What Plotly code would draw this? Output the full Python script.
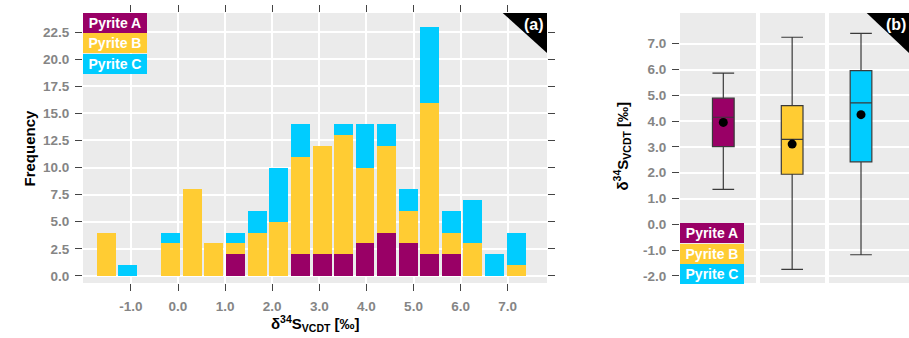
import plotly.graph_objects as go

# ---------------- data ----------------
groups = ["Pyrite A", "Pyrite B", "Pyrite C"]
colors = ["#990066", "#FFCC33", "#00CCFF"]

# histogram bin centres (‰) and stacked counts per group
bin_centers = [-1.52, -1.07, -0.62, -0.16, 0.30, 0.76, 1.22, 1.68, 2.14, 2.60,
               3.06, 3.52, 3.97, 4.43, 4.89, 5.34, 5.80, 6.26, 6.72, 7.18]
count_A = [0, 0, 0, 0, 0, 0, 2, 0, 0, 2, 2, 2, 3, 4, 3, 2, 2, 0, 0, 0]
count_B = [4, 0, 0, 3, 8, 3, 1, 4, 5, 9, 10, 11, 7, 8, 3, 14, 2, 3, 0, 1]
count_C = [0, 1, 0, 1, 0, 0, 1, 2, 5, 3, 0, 1, 4, 2, 2, 7, 2, 4, 2, 3]
bar_width = 0.40

# box-plot statistics per group
box_pos = [0, 1, 2]
box_low = [1.35, -1.75, -1.18]
box_q1 = [3.01, 1.94, 2.42]
box_median = [4.15, 3.29, 4.71]
box_q3 = [4.89, 4.60, 5.96]
box_high = [5.86, 7.25, 7.40]
box_mean = [3.95, 3.11, 4.25]

x_ticks = [-1, 0, 1, 2, 3, 4, 5, 6, 7]
y_ticks_a = [0, 2.5, 5, 7.5, 10, 12.5, 15, 17.5, 20, 22.5]
y_ticks_b = [-2, -1, 0, 1, 2, 3, 4, 5, 6, 7]

# ---------------- figure ----------------
W, H = 909, 338
FONT = "Liberation Sans, Arial, sans-serif"
TICKCOL = "#858585"
PANEL = "#EBEBEB"

fig = go.Figure()

for counts, name, col in zip([count_A, count_B, count_C], groups, colors):
    fig.add_trace(go.Bar(x=bin_centers, y=counts, width=bar_width, name=name,
                         marker=dict(color=col, line=dict(width=0)),
                         xaxis="x", yaxis="y", showlegend=False))

for i, (name, col) in enumerate(zip(groups, colors)):
    fig.add_trace(go.Box(x=[box_pos[i]], q1=[box_q1[i]], median=[box_median[i]],
                         q3=[box_q3[i]], lowerfence=[box_low[i]], upperfence=[box_high[i]],
                         width=0.315, whiskerwidth=1, fillcolor=col,
                         line=dict(color="#3a3a3a", width=1.2),
                         xaxis="x2", yaxis="y2", showlegend=False, name=name,
                         boxpoints=False))

fig.add_trace(go.Scatter(x=box_pos, y=box_mean, mode="markers",
                         marker=dict(color="black", size=9),
                         xaxis="x2", yaxis="y2", showlegend=False))

def px_x(p):
    return p / W

def px_y(p):
    return 1 - p / H

a_l, a_r, top, bot = 83, 547, 13, 283
b_l, b_r = 680, 909

axis_common = dict(showline=False, zeroline=False, ticks="outside", ticklen=7,
                   tickwidth=1.3, tickcolor="#444444",
                   tickfont=dict(family=FONT, size=13.5, color=TICKCOL, weight="bold"),
                   gridcolor="white")

fig.update_layout(
    width=W, height=H, margin=dict(l=0, r=0, t=0, b=0),
    paper_bgcolor="white", plot_bgcolor=PANEL, barmode="stack", bargap=0,
    xaxis=dict(domain=[px_x(a_l), px_x(a_r)], range=[-2.017, 7.834], tickvals=x_ticks,
               ticktext=[f"{v:.1f}" for v in x_ticks], gridwidth=1.6, mirror="ticks",
               anchor="y", ticklabelstandoff=4, **axis_common),
    yaxis=dict(domain=[px_y(bot), px_y(top)], range=[-0.65, 24.26], tickvals=y_ticks_a,
               ticktext=[f"{v:.1f}" for v in y_ticks_a], gridwidth=1.6, mirror="ticks",
               anchor="x", ticklabelstandoff=3, **axis_common),
    xaxis2=dict(domain=[px_x(b_l), px_x(b_r)], range=[-0.629, 2.697], tickvals=[0.5, 1.5],
                showticklabels=False, showline=False, zeroline=False, ticks="",
                gridcolor="white", gridwidth=3.5, anchor="y2"),
    yaxis2=dict(domain=[px_y(bot), px_y(top)], range=[-2.275, 8.19], tickvals=y_ticks_b,
                ticktext=[f"{v:.1f}" for v in y_ticks_b], gridwidth=2, anchor="x2",
                ticklabelstandoff=3, **axis_common),
)

# corner triangles with panel labels
for xr, yr, lbl in [("x", "y", "(a)"), ("x2", "y2", "(b)")]:
    if xr == "x":
        x0 = 1 - 44.3 / (a_r - a_l)
    else:
        x0 = 1 - 42.3 / (b_r - b_l)
    y1 = 1 - 40 / (bot - top)
    fig.add_shape(type="path", xref=f"{xr} domain", yref=f"{yr} domain",
                  path=f"M {x0} 1 L 1 1 L 1 {y1} Z", fillcolor="black",
                  line=dict(width=0), layer="above")
    fig.add_annotation(xref=f"{xr} domain", yref=f"{yr} domain", x=0.997, y=0.997,
                       xanchor="right", yanchor="top", text=f"<b>{lbl}</b>",
                       showarrow=False, font=dict(family=FONT, size=16, color="white"))

# legend-style labels
def label_boxes(x_left_px, y_top_px):
    for i, (name, col) in enumerate(zip(groups, colors)):
        yt = y_top_px + i * 20.3
        fig.add_annotation(xref="paper", yref="paper", x=px_x(x_left_px), y=px_y(yt),
                           xanchor="left", yanchor="top", text=f"<b>{name}</b>",
                           showarrow=False, bgcolor=col, width=62, height=18,
                           borderpad=1, borderwidth=0, align="center",
                           font=dict(family=FONT, size=14, color="white"))

label_boxes(a_l, top)
label_boxes(b_l, 223.3)

# axis titles
title_font = dict(family=FONT, size=15, color="black")
fig.add_annotation(xref="paper", yref="paper", x=px_x(18), y=px_y(148), text="<b>Frequency</b>",
                   textangle=-90, showarrow=False, font=title_font)
fig.add_annotation(xref="paper", yref="paper", x=px_x(315), y=px_y(336), yanchor="bottom",
                   text="<b>δ<sup>34</sup>S<sub>VCDT</sub> [‰]</b>",
                   showarrow=False, font=title_font)
fig.add_annotation(xref="paper", yref="paper", x=px_x(609), y=px_y(146), xanchor="left",
                   text="<b>δ<sup>34</sup>S<sub>VCDT</sub> [‰]</b>", textangle=-90,
                   showarrow=False, font=title_font)

fig.write_html("out.html")
